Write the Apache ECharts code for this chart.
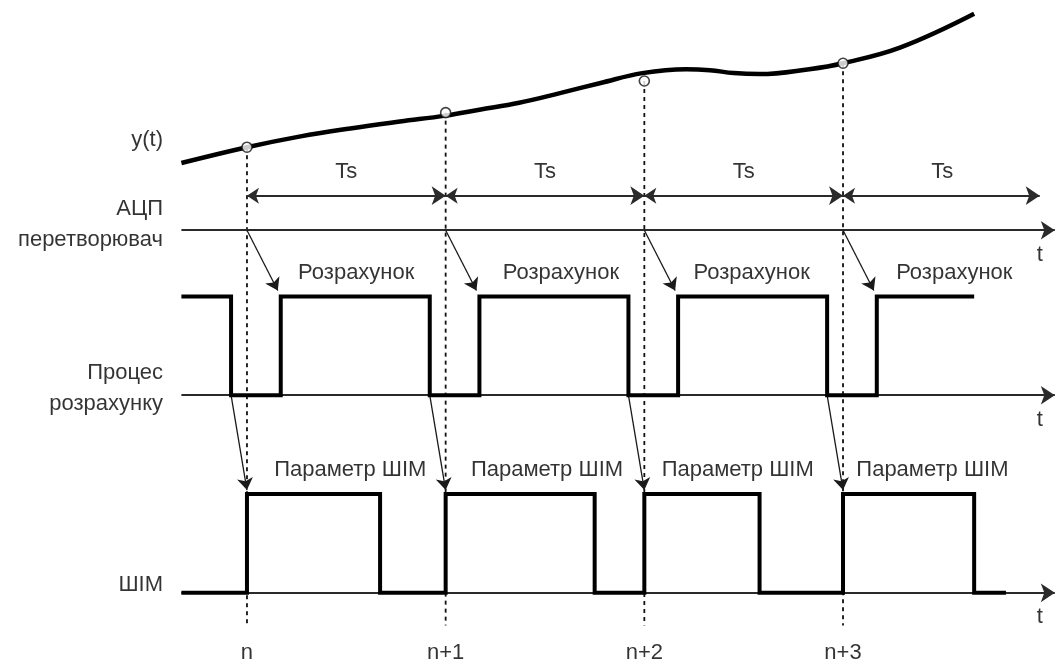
<!DOCTYPE html>
<html><head><meta charset="utf-8">
<script src="https://cdn.jsdelivr.net/npm/echarts/dist/echarts.min.js"></script>
<style>html,body{margin:0;padding:0;background:#fff}#c{width:1057px;height:662px}</style>
</head><body><div id="c"></div>
<script>
// ---------- data (time in units of Ts, n = 0) ----------
const sampleT = [0, 1, 2, 3];
const sampleLabels = ['n', 'n+1', 'n+2', 'n+3'];
const sampleY = [4.51, 4.86, 5.18, 5.36];

const curveT = [-0.33, 0.0, 0.27, 0.52, 0.77, 1.0, 1.17, 1.37, 1.58, 1.78, 1.99, 2.21, 2.33, 2.45, 2.58, 2.83, 3.0, 3.29, 3.66];
const curveY = [4.35, 4.51, 4.62, 4.70, 4.77, 4.83, 4.89, 4.96, 5.06, 5.16, 5.26, 5.30, 5.29, 5.26, 5.25, 5.30, 5.36, 5.52, 5.86];

const calcT = [-0.33, -0.08, 0.17, 0.92, 1.17, 1.92, 2.17, 2.92, 3.17, 3.66];
const calcV = [1, 0, 1, 0, 1, 0, 1, 0, 1, 1];

const pwmT = [-0.33, 0, 0.67, 1, 1.75, 2, 2.58, 3, 3.66, 3.82];
const pwmV = [0, 1, 0, 1, 0, 1, 0, 1, 0, 0];

const tsLabel = 'Ts';
const tsEnd = [1, 2, 3, 3.99];

const calcLabel = 'Розрахунок';
const calcLabelT = [0.55, 1.58, 2.54, 3.56];
const pwmLabel = 'Параметр ШІМ';
const pwmLabelT = [0.52, 1.51, 2.47, 3.45];

const rowLabels = ['y(t)', 'АЦП', 'перетворювач', 'Процес', 'розрахунку', 'ШІМ'];
const axisName = 't';

// ---------- layout (levels on the hidden y scale) ----------
const PWM_BASE = 0, CALC_BASE = 2, ADC_Y = 3.67, TS_Y = 4.02;
const AXIS_START = -0.33, AXIS_END = 4.066, DASH_BOTTOM = -0.33;
const rowLabelY = [4.58, 3.89, 3.57, 2.23, 1.91, 0.08];
const LEFT_X = -0.42;
const FONT = '"Liberation Sans", Arial, sans-serif';

const chart = echarts.init(document.getElementById('c'), null, {renderer: 'canvas'});
const series = [];

// dashed verticals
sampleT.forEach((t, i) => {
  series.push({type: 'line', data: [[t, sampleY[i]], [t, DASH_BOTTOM]], symbol: 'none', silent: true, z: 1,
    lineStyle: {color: '#111', width: 1.8, type: [4, 4]}});
});
// y(t) curve
series.push({type: 'line', data: curveT.map((t, i) => [t, curveY[i]]), smooth: 0.4, symbol: 'none', z: 3,
  lineStyle: {color: '#000', width: 4.5}});
// sample circles
series.push({type: 'scatter', data: sampleT.map((t, i) => [t, sampleY[i]]), symbol: 'circle', symbolSize: 10, z: 5,
  itemStyle: {color: '#fff', borderColor: '#111', borderWidth: 1.6}});
// time axes with arrows
series.push({type: 'lines', coordinateSystem: 'cartesian2d', z: 2, symbol: ['none', 'arrow'], symbolSize: [12, 14],
  lineStyle: {color: '#2a2a2a', width: 1.8, opacity: 1},
  data: [ADC_Y, CALC_BASE, PWM_BASE].map(y => ({coords: [[AXIS_START, y], [AXIS_END, y]]}))});
// Ts arrows
series.push({type: 'lines', coordinateSystem: 'cartesian2d', z: 2, symbol: ['arrow', 'arrow'], symbolSize: [12, 14],
  lineStyle: {color: '#2a2a2a', width: 1.8, opacity: 1},
  data: sampleT.map((t, i) => ({coords: [[t, TS_Y], [tsEnd[i], TS_Y]]}))});
// calc signal
series.push({type: 'line', step: 'end', symbol: 'none', z: 4, data: calcT.map((t, i) => [t, CALC_BASE + calcV[i]]),
  lineStyle: {color: '#000', width: 4, join: 'miter', cap: 'butt'}});
// pwm signal
series.push({type: 'line', step: 'end', symbol: 'none', z: 4, data: pwmT.map((t, i) => [t, PWM_BASE + pwmV[i]]),
  lineStyle: {color: '#000', width: 4, join: 'miter', cap: 'butt'}});
// causal arrows
const arrowData = [];
sampleT.forEach((t) => {
  arrowData.push({coords: [[t, ADC_Y], [t + 0.155, CALC_BASE + 1.06]]});
  arrowData.push({coords: [[t - 0.08, CALC_BASE], [t, PWM_BASE + 1.04]]});
});
series.push({type: 'lines', coordinateSystem: 'cartesian2d', z: 3, symbol: ['none', 'arrow'], symbolSize: [9, 12],
  lineStyle: {color: '#1a1a1a', width: 1.3, opacity: 1}, data: arrowData});

// texts
const txt = [];
const mk = (x, y, text, pos) => ({value: [x, y], label: {show: true, formatter: text, position: pos, distance: 0,
  align: pos === 'left' ? 'right' : 'center', verticalAlign: 'middle'}});
rowLabels.forEach((s, i) => txt.push(mk(LEFT_X, rowLabelY[i], s, 'left')));
sampleT.forEach((t, i) => {
  txt.push(mk(t + 0.5, 4.26, tsLabel, 'inside'));
  txt.push(mk(calcLabelT[i], 3.24, calcLabel, 'inside'));
  txt.push(mk(pwmLabelT[i], 1.24, pwmLabel, 'inside'));
  txt.push(mk(t, -0.61, sampleLabels[i], 'inside'));
});
[3.42, 1.75, -0.245].forEach(y => txt.push(mk(3.99, y, axisName, 'inside')));
series.push({type: 'scatter', symbolSize: 1, z: 10, silent: true, itemStyle: {color: 'transparent'},
  label: {show: true, color: '#000', fontSize: 22, fontFamily: FONT}, data: txt});

chart.setOption({
  animation: false,
  backgroundColor: '#fff',
  grid: {left: 0, right: 0, top: 0, bottom: 0},
  xAxis: {type: 'value', min: -1.243, max: 4.077, show: false},
  yAxis: {type: 'value', min: -0.7, max: 6.0, show: false},
  series: series
});
</script></body></html>
